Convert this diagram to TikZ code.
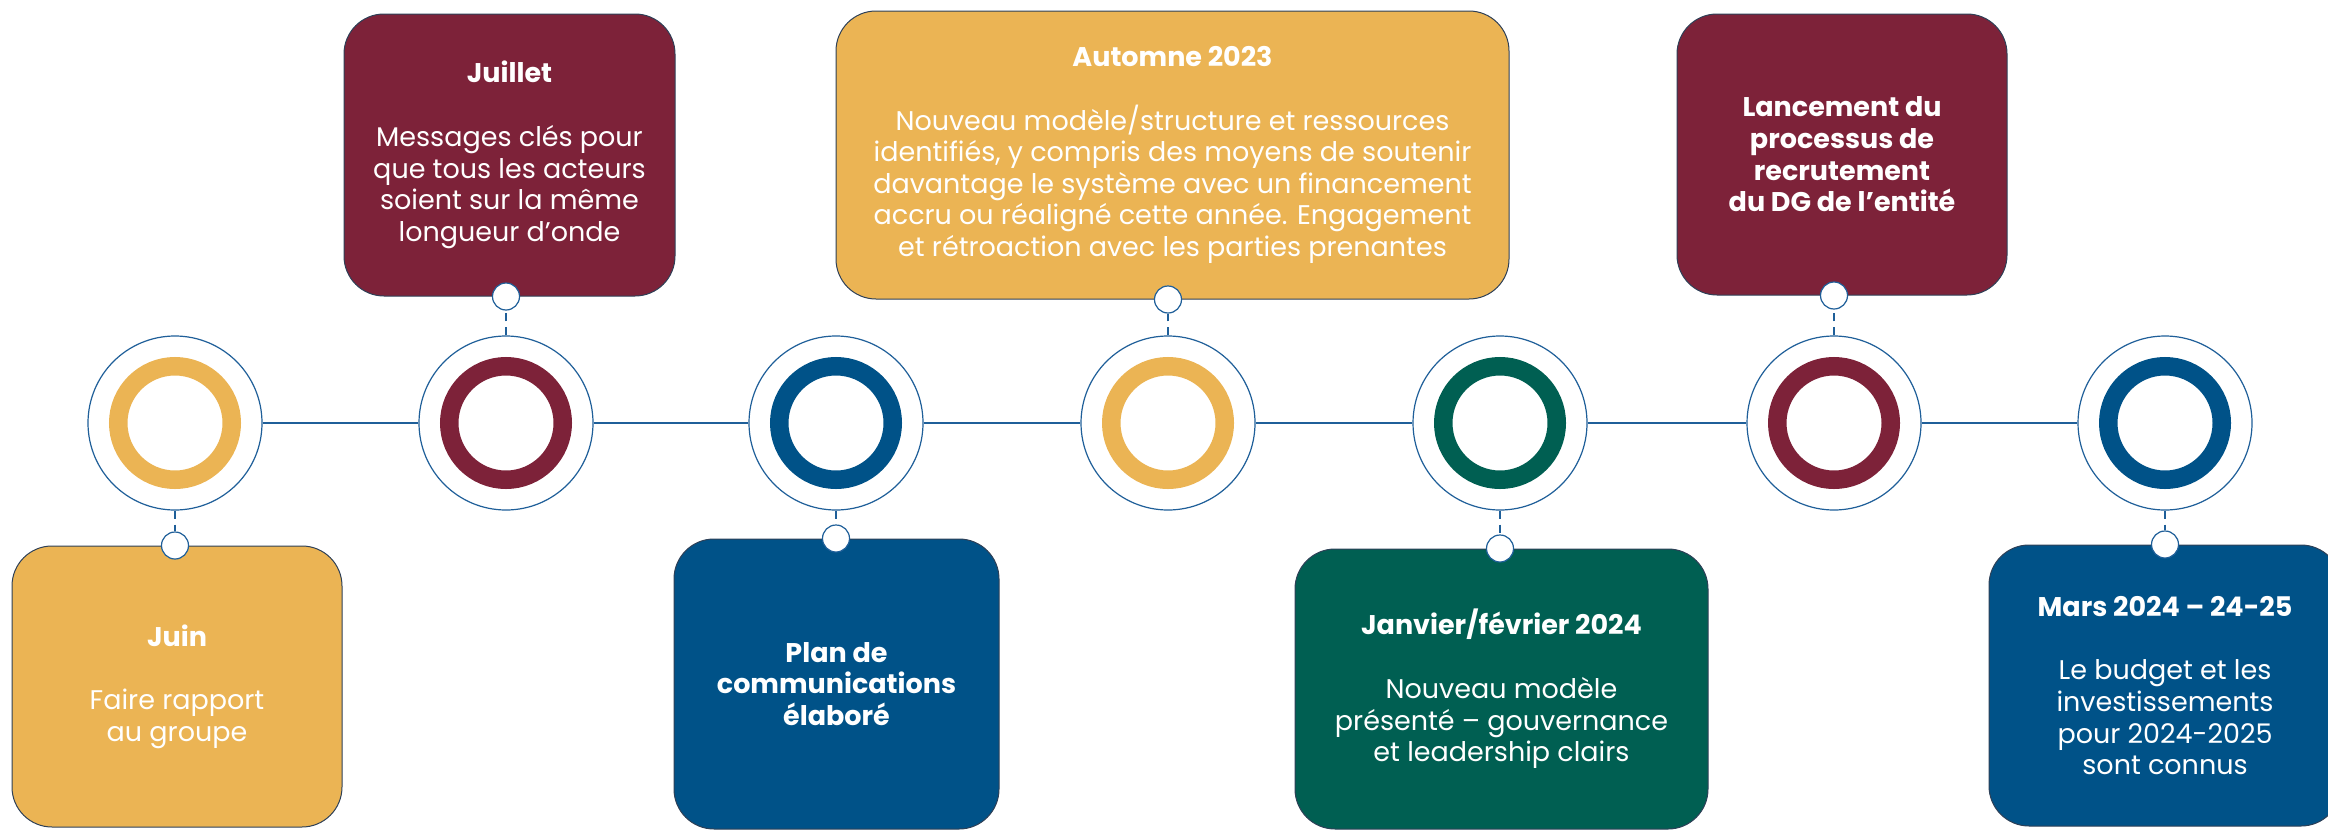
\documentclass[tikz,border=0pt]{standalone}
\usepackage{fontspec}
\setmainfont{Poppins}
\usetikzlibrary{calc, positioning}
\definecolor{gold}{HTML}{EBB454}
\definecolor{wine}{HTML}{7D2239}
\definecolor{navy}{HTML}{005288}
\definecolor{pine}{HTML}{005F52}
\definecolor{lineBlue}{HTML}{1F5F99}
\definecolor{cardEdge}{HTML}{2E4057}
\tikzset{
    outerRing/.style={circle, draw=lineBlue, fill=white, line width=0.6pt, minimum size=87pt, inner sep=0pt},
    innerRing/.style={circle, draw=#1, line width=9.25pt, minimum size=56.75pt, inner sep=0pt},
    pin/.style={circle, draw=lineBlue, fill=white, line width=0.6pt, minimum size=13.5pt, inner sep=0pt},
    card/.style={rectangle, rounded corners=20pt, draw=cardEdge, fill=#1, line width=0.5pt, text=white, align=center, inner sep=0pt, font=\fontsize{13.5}{15.8}\selectfont, execute at begin node={\rule{0pt}{13pt}}},
    timeline/.style={draw=lineBlue, line width=0.6pt},
    tether/.style={draw=lineBlue, line width=0.6pt, dash pattern=on 4pt off 3pt},
}
\newcommand{\drawStop}[3]{
    \node[outerRing] (#1) at (#2, 423) {};
    \node[innerRing=#3] at (#1) {};
}
\newcommand{\drawPin}[3]{
    % pin on the card edge, dashed tether to the stop
    \node[pin] (#1) at (#2 -| #3) {};
    \draw[tether] (#3) -- (#1);
}

\begin{document}
\begin{tikzpicture}[x=0.5pt, y=-0.5pt]
        \useasboundingbox (0, 0) rectangle (2328, 830);

        % cards
        \node[card=gold, minimum width=165pt, minimum height=140.5pt] (juin) at (177, 686.5)
            {\textbf{Juin}\\[16pt]Faire rapport\\au groupe};
        \node[card=wine, minimum width=165.5pt, minimum height=141pt] (juillet) at (509.5, 155)
            {\textbf{Juillet}\\[16pt]Messages clés pour\\que tous les acteurs\\soient sur la même\\longueur d’onde};
        \node[card=gold, minimum width=336.5pt, minimum height=144pt] (automne) at (1172.5, 155)
            {\textbf{Automne 2023}\\[16pt]Nouveau modèle/structure et ressources\\identifiés, y compris des moyens de soutenir\\davantage le système avec un financement\\accru ou réaligné cette année. Engagement\\et rétroaction avec les parties prenantes};
        \node[card=navy, minimum width=162.5pt, minimum height=145pt] (plan) at (836.5, 684)
            {\textbf{Plan de}\\\textbf{communications}\\\textbf{élaboré}};
        \node[card=pine, minimum width=206.5pt, minimum height=140pt] (janvier) at (1501.5, 689)
            {\textbf{Janvier/février 2024}\\[16pt]Nouveau modèle\\présenté – gouvernance\\et leadership clairs};
        \node[card=wine, minimum width=165pt, minimum height=140.5pt] (lancement) at (1842, 154.5)
            {\textbf{Lancement du}\\\textbf{processus de}\\\textbf{recrutement}\\\textbf{du DG de l’entité}};
        \node[card=navy, minimum width=176pt, minimum height=140.5pt] (mars) at (2165, 685.5)
            {\textbf{Mars 2024 – 24-25}\\[16pt]Le budget et les\\investissements\\pour 2024-2025\\sont connus};

        % stops on the line
        \drawStop{s1}{175}{gold}
        \drawStop{s2}{506}{wine}
        \drawStop{s3}{836}{navy}
        \drawStop{s4}{1168}{gold}
        \drawStop{s5}{1500}{pine}
        \drawStop{s6}{1834}{wine}
        \drawStop{s7}{2165}{navy}

        \foreach \i/\j in {1/2, 2/3, 3/4, 4/5, 5/6, 6/7}
            \draw[timeline] (s\i) -- (s\j);

        \drawPin{p1}{juin.north}{s1}
        \drawPin{p2}{juillet.south}{s2}
        \drawPin{p3}{plan.north}{s3}
        \drawPin{p4}{automne.south}{s4}
        \drawPin{p5}{janvier.north}{s5}
        \drawPin{p6}{lancement.south}{s6}
        \drawPin{p7}{mars.north}{s7}

    \end{tikzpicture}
\end{document}
